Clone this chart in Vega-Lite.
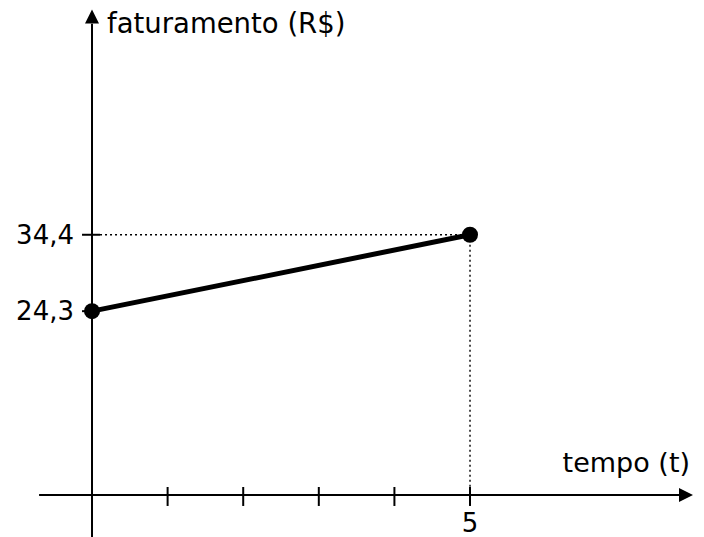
{
  "$schema": "https://vega.github.io/schema/vega-lite/v6.json",
  "width": 704,
  "height": 537,
  "autosize": {"type": "none"},
  "padding": 0,
  "background": "white",
  "config": {"view": {"stroke": null}, "font": "DejaVu Sans"},
  "layer": [
    {
      "data": {"values": [
        {"t0": -0.70, "t1": 7.80, "v0": 0, "v1": 0},
        {"t0": 0, "t1": 0, "v0": -5.6, "v1": 62.3}
      ]},
      "mark": {"type": "rule", "color": "black", "strokeWidth": 2},
      "encoding": {
        "x": {"field": "t0", "type": "quantitative", "scale": {"domain": [-1.217, 8.095], "nice": false, "zero": false}, "axis": null},
        "x2": {"field": "t1"},
        "y": {"field": "v0", "type": "quantitative", "scale": {"domain": [-5.552, 65.433], "nice": false, "zero": false}, "axis": null},
        "y2": {"field": "v1"}
      }
    },
    {
      "data": {"values": [{"t": 1}, {"t": 2}, {"t": 3}, {"t": 4}, {"t": 5}]},
      "mark": {"type": "rule", "color": "black", "strokeWidth": 2},
      "encoding": {
        "x": {"field": "t", "type": "quantitative"},
        "y": {"datum": 1.06, "type": "quantitative"},
        "y2": {"datum": -1.45}
      }
    },
    {
      "data": {"values": [{"v": 24.3}, {"v": 34.4}]},
      "mark": {"type": "rule", "color": "black", "strokeWidth": 2},
      "encoding": {
        "x": {"datum": -0.132, "type": "quantitative"},
        "x2": {"datum": 0.106},
        "y": {"field": "v", "type": "quantitative"}
      }
    },
    {
      "data": {"values": [
        {"t0": 0.106, "t1": 5, "v0": 34.4, "v1": 34.4},
        {"t0": 5, "t1": 5, "v0": 34.4, "v1": 1.06}
      ]},
      "mark": {"type": "rule", "color": "black", "strokeWidth": 1.4, "strokeDash": [2, 3]},
      "encoding": {
        "x": {"field": "t0", "type": "quantitative"},
        "x2": {"field": "t1"},
        "y": {"field": "v0", "type": "quantitative"},
        "y2": {"field": "v1"}
      }
    },
    {
      "data": {"values": [{"t": 0, "v": 24.3}, {"t": 5, "v": 34.4}]},
      "layer": [
        {
          "mark": {"type": "line", "color": "black", "strokeWidth": 5},
          "encoding": {
            "x": {"field": "t", "type": "quantitative"},
            "y": {"field": "v", "type": "quantitative"}
          }
        },
        {
          "mark": {"type": "point", "filled": true, "color": "black", "opacity": 1, "size": 256},
          "encoding": {
            "x": {"field": "t", "type": "quantitative"},
            "y": {"field": "v", "type": "quantitative"}
          }
        }
      ]
    },
    {
      "data": {"values": [{"t": 0, "v": 63.25}]},
      "mark": {"type": "point", "filled": true, "color": "black", "opacity": 1, "shape": "M0,-1L1,1L-1,1Z", "size": 196},
      "encoding": {
        "x": {"field": "t", "type": "quantitative"},
        "y": {"field": "v", "type": "quantitative"}
      }
    },
    {
      "data": {"values": [{"t": 7.857, "v": 0}]},
      "mark": {"type": "point", "filled": true, "color": "black", "opacity": 1, "shape": "M1,0L-1,-1L-1,1Z", "size": 196},
      "encoding": {
        "x": {"field": "t", "type": "quantitative"},
        "y": {"field": "v", "type": "quantitative"}
      }
    },
    {
      "data": {"values": [{"v": 24.3, "lab": "24,3"}, {"v": 34.4, "lab": "34,4"}]},
      "mark": {"type": "text", "align": "right", "baseline": "middle", "dx": -18, "dy": 1, "fontSize": 26, "color": "black"},
      "encoding": {
        "x": {"datum": 0, "type": "quantitative"},
        "y": {"field": "v", "type": "quantitative"},
        "text": {"field": "lab"}
      }
    },
    {
      "data": {"values": [{"t": 5, "lab": "5"}]},
      "mark": {"type": "text", "align": "center", "baseline": "alphabetic", "dy": 37, "fontSize": 26, "color": "black"},
      "encoding": {
        "x": {"field": "t", "type": "quantitative"},
        "y": {"datum": 0, "type": "quantitative"},
        "text": {"field": "lab"}
      }
    },
    {
      "data": {"values": [{"lab": "faturamento (R$)"}]},
      "mark": {"type": "text", "align": "left", "baseline": "alphabetic", "dx": 15, "fontSize": 27.5, "color": "black"},
      "encoding": {
        "x": {"datum": 0, "type": "quantitative"},
        "y": {"datum": 61.07, "type": "quantitative"},
        "text": {"field": "lab"}
      }
    },
    {
      "data": {"values": [{"lab": "tempo (t)"}]},
      "mark": {"type": "text", "align": "right", "baseline": "alphabetic", "fontSize": 27, "color": "black"},
      "encoding": {
        "x": {"datum": 7.91, "type": "quantitative"},
        "y": {"datum": 3.04, "type": "quantitative"},
        "text": {"field": "lab"}
      }
    }
  ]
}
